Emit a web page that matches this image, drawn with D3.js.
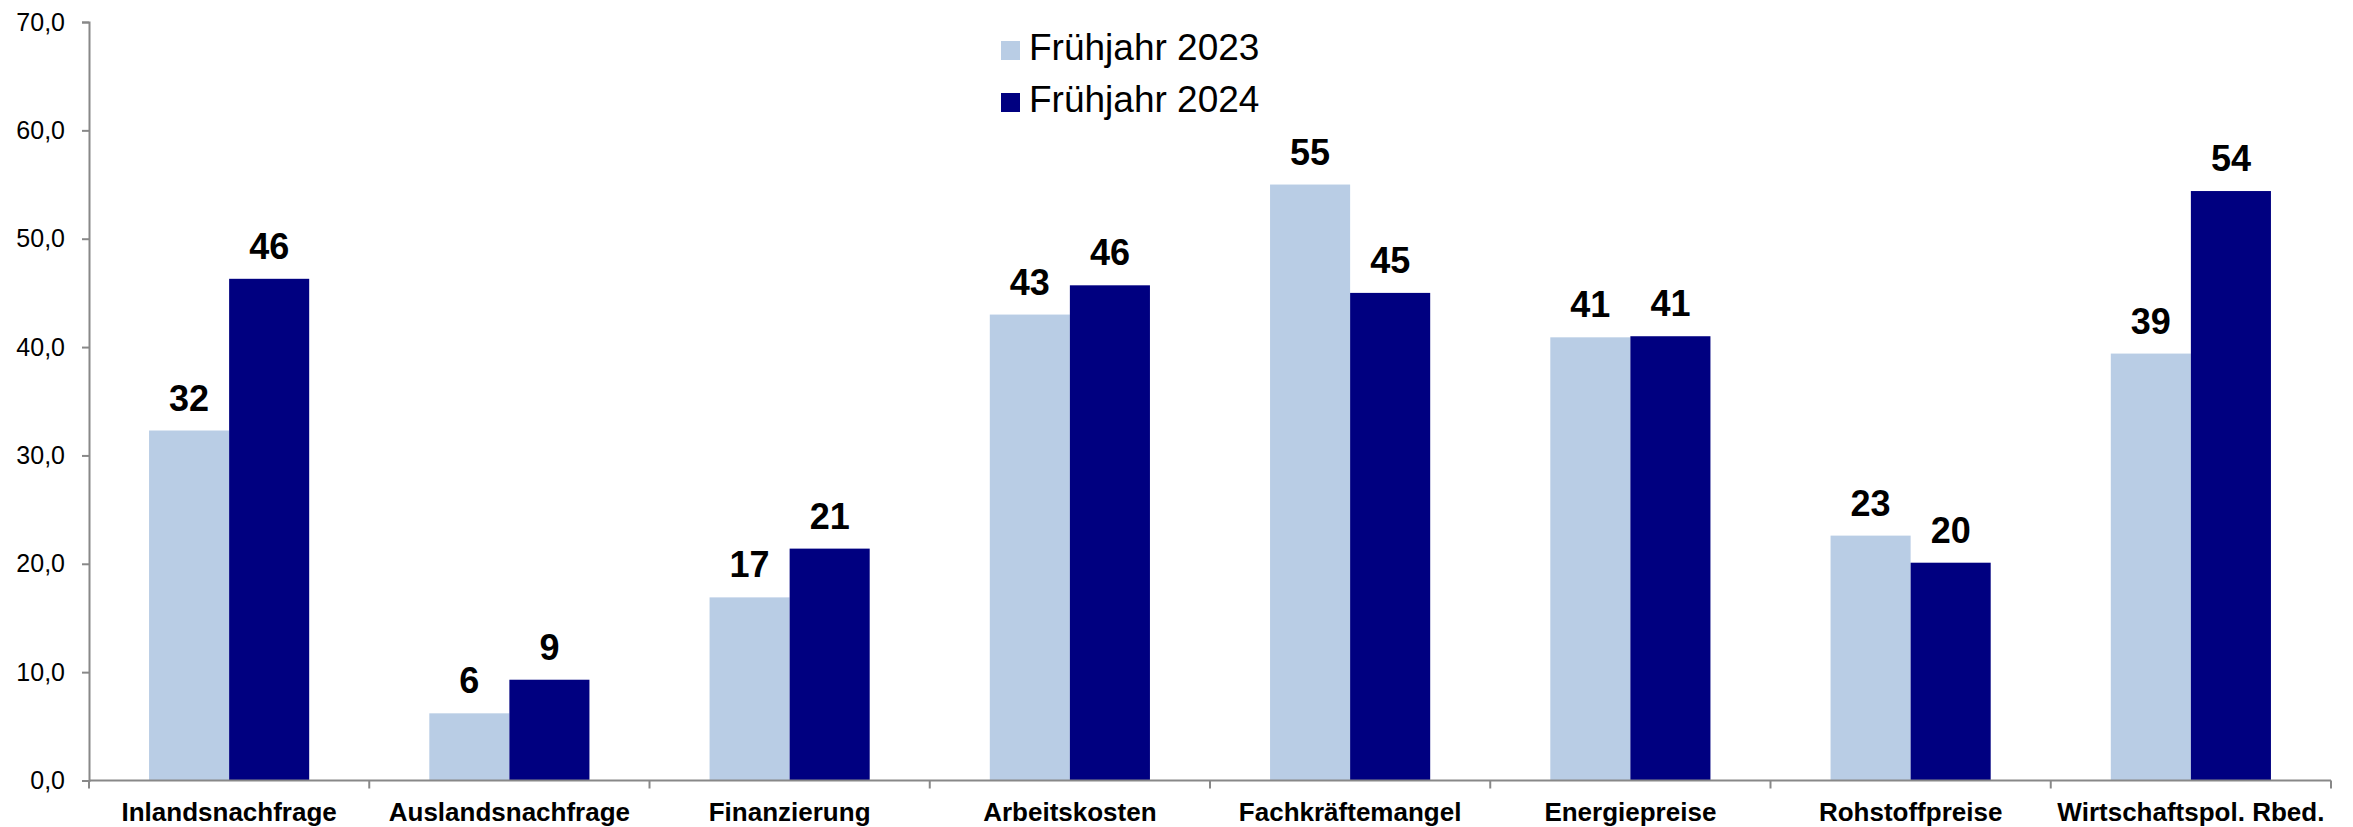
<!DOCTYPE html>
<html>
<head>
<meta charset="utf-8">
<script src="https://cdn.jsdelivr.net/npm/d3@7"></script>
<style>
  html, body { margin: 0; padding: 0; background: #fff; }
  svg { display: block; font-family: "Liberation Sans", Arial, sans-serif; }
</style>
</head>
<body>
<svg id="chart" width="2353" height="827"></svg>
<script>
const categories = ["Inlandsnachfrage", "Auslandsnachfrage", "Finanzierung", "Arbeitskosten",
  "Fachkräftemangel", "Energiepreise", "Rohstoffpreise", "Wirtschaftspol. Rbed."];
const seriesNames = ["Frühjahr 2023", "Frühjahr 2024"];
const values2023 = [32.3, 6.2, 16.9, 43.0, 55.0, 40.9, 22.6, 39.4];
const values2024 = [46.3, 9.3, 21.4, 45.7, 45.0, 41.0, 20.1, 54.4];
const yTicks = [0, 10, 20, 30, 40, 50, 60, 70];
const colors = ["#B9CDE5", "#000080"];

(function () {
const series = [values2023, values2024];
const svg = d3.select("#chart");
const mLeft = 89, mRight = 2331, mTop = 22, mBottom = 780.5;

const x0 = d3.scaleBand().domain(categories).range([mLeft, mRight]).padding(0);
const x1 = d3.scaleBand().domain(seriesNames).range([0, x0.bandwidth()])
  .paddingInner(0).paddingOuter(0.75);
const y = d3.scaleLinear().domain([0, 70]).range([mBottom, mTop]);

// bars
const groups = svg.append("g").selectAll("g").data(categories).join("g")
  .attr("transform", d => `translate(${x0(d)},0)`);
groups.selectAll("rect")
  .data((d, i) => seriesNames.map((s, k) => ({ s, k, v: series[k][i] })))
  .join("rect")
  .attr("x", d => x1(d.s))
  .attr("width", x1.bandwidth())
  .attr("y", d => y(d.v))
  .attr("height", d => y(0) - y(d.v))
  .attr("fill", d => colors[d.k]);
groups.selectAll("text")
  .data((d, i) => seriesNames.map((s, k) => ({ s, k, v: series[k][i] })))
  .join("text")
  .attr("x", d => x1(d.s) + x1.bandwidth() / 2)
  .attr("y", d => y(d.v) - 20)
  .attr("text-anchor", "middle")
  .attr("font-size", 36)
  .attr("font-weight", "bold")
  .attr("fill", "#000")
  .text(d => Math.round(d.v));

// y axis
const yAxis = d3.axisLeft(y).tickValues(yTicks).tickSize(7).tickPadding(17)
  .tickFormat(d => d3.format(".1f")(d).replace(".", ","));
const gy = svg.append("g").attr("transform", `translate(${mLeft},0)`).call(yAxis);
gy.select(".domain").attr("stroke", "#888").attr("stroke-width", 2);
gy.selectAll(".tick line").attr("stroke", "#888").attr("stroke-width", 2);
gy.selectAll(".tick text").attr("font-size", 25).attr("fill", "#000")
  .attr("font-family", "'Liberation Sans', Arial, sans-serif");

// x axis
const gx = svg.append("g").attr("transform", `translate(0,${mBottom})`);
gx.append("line").attr("x1", mLeft).attr("x2", mRight).attr("y1", 0).attr("y2", 0)
  .attr("stroke", "#888").attr("stroke-width", 2);
const boundaries = categories.map(c => x0(c)).concat([mRight]);
gx.selectAll("line.tk").data(boundaries).join("line").attr("class", "tk")
  .attr("x1", d => d).attr("x2", d => d).attr("y1", 0).attr("y2", 8)
  .attr("stroke", "#888").attr("stroke-width", 2);
gx.selectAll("text").data(categories).join("text")
  .attr("x", d => x0(d) + x0.bandwidth() / 2)
  .attr("y", 40)
  .attr("text-anchor", "middle")
  .attr("font-size", 26)
  .attr("font-weight", "bold")
  .attr("fill", "#000")
  .text(d => d);

// legend
const legend = svg.append("g").attr("transform", "translate(1001,41)");
const li = legend.selectAll("g").data(seriesNames).join("g")
  .attr("transform", (d, i) => `translate(0,${i * 52})`);
li.append("rect").attr("width", 19).attr("height", 19).attr("fill", (d, i) => colors[i]);
li.append("text").attr("x", 28).attr("y", 19).attr("font-size", 37).attr("fill", "#000")
  .text(d => d);
})();
</script>
</body>
</html>
